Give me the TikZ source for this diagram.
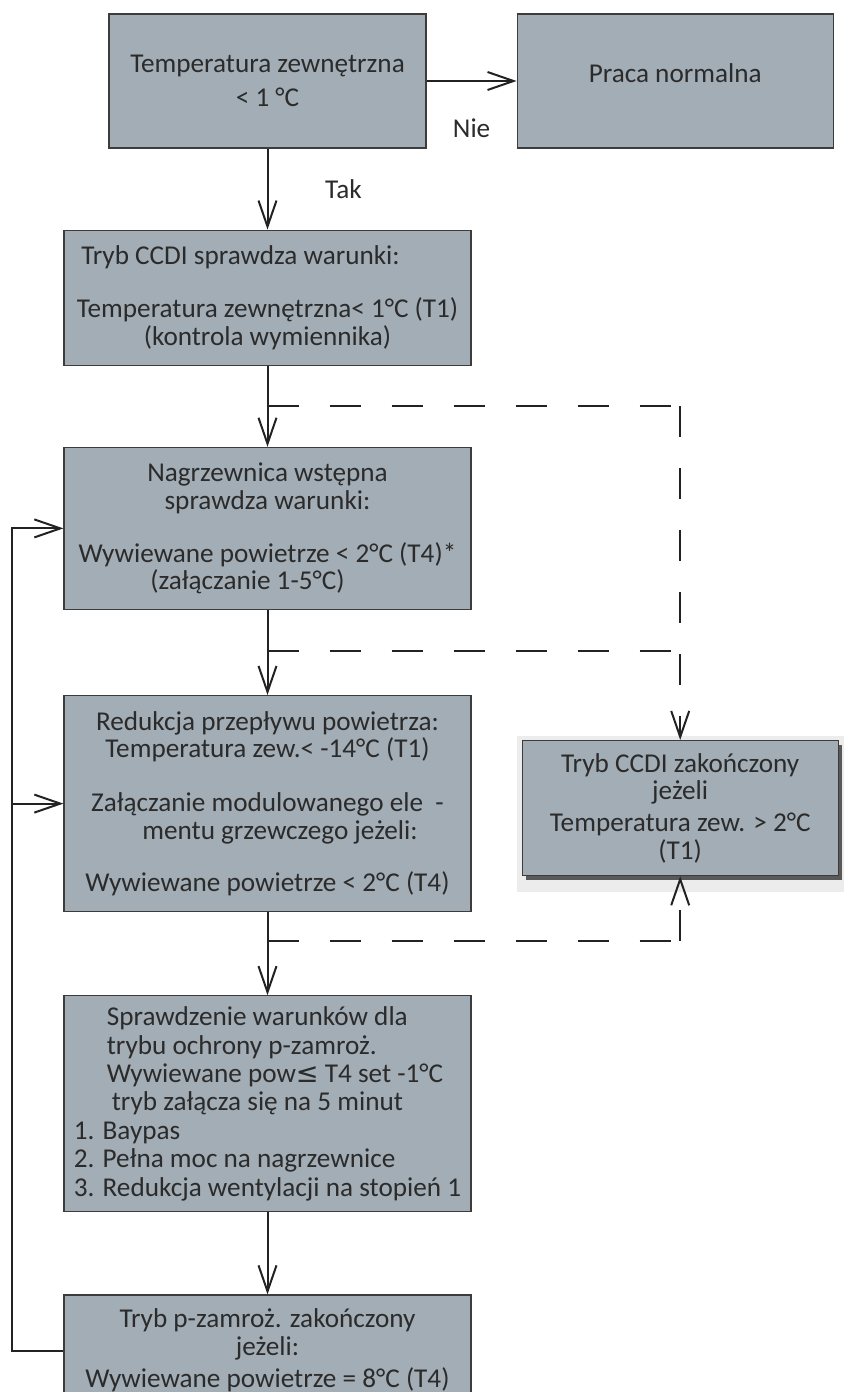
\documentclass[tikz,border=0pt]{standalone}
\usepackage{fontspec}
\setmainfont{Carlito}
\newfontfamily\symfont{DejaVu Sans}
\usepackage{tikz}
\usetikzlibrary{positioning, arrows.meta, shadows, backgrounds}

\definecolor{boxfill}{HTML}{A3ADB5}
\definecolor{boxline}{HTML}{3C3C3C}
\definecolor{txt}{HTML}{2B2B2B}
\definecolor{ink}{HTML}{222222}
\definecolor{shadowbg}{HTML}{ECECEC}

\begin{document}
\begin{tikzpicture}[x=0.5pt, y=-0.5pt, font=\fontsize{13.6}{13.75}\selectfont, text=txt,
  >={Straight Barb[length=13pt,width=9pt]},
  main box/.style={rectangle, draw=boxline, line width=0.6pt, fill=boxfill,
    inner sep=2pt, minimum width=203.5pt, align=center},
  flow/.style={draw=ink, line width=1pt, ->},
  dash line/.style={draw=ink, line width=1pt, dash pattern=on 15.5pt off 15.5pt}]

\useasboundingbox (0,0) rectangle (844,1392);
\clip (0,0) rectangle (844,1392);

\node[main box, minimum width=158.5pt, minimum height=67pt] (temp) at (267.5,81) {Temperatura zewnętrzna\\[3.25pt]< 1 °C};
\node[main box, minimum width=158pt, minimum height=67pt] (normal) [right=45pt of temp] {\raisebox{8pt}{Praca normalna}};
\node[main box, minimum height=67.5pt] (ccdi) [below=40.5pt of temp] {\hspace*{-27pt}Tryb CCDI sprawdza warunki:\\[12.75pt]Temperatura zewnętrzna< 1°C (T1)\\(kontrola wymiennika)};
\node[main box, minimum height=81pt] (pre) [below=40.5pt of ccdi] {Nagrzewnica wstępna\\sprawdza warunki:\\[12.75pt]Wywiewane powietrze < 2°C (T4)*\\\hspace*{-20pt}(załączanie 1-5°C)};
\node[main box, minimum height=108pt] (red) [below=42.5pt of pre] {Redukcja przepływu powietrza:\\Temperatura zew.< -14°C (T1)\\[13.25pt]Załączanie modulowanego ele~~-\\\hspace*{12.5pt}mentu grzewczego jeżeli:\\[12.25pt]Wywiewane powietrze < 2°C (T4)};
\node[main box, minimum height=108pt, align=left, font=\fontsize{13.6}{14.2}\selectfont] (check) [below=41.5pt of red] {\hspace*{16.5pt}Sprawdzenie warunków dla\\\hspace*{16.5pt}trybu ochrony p-zamroż.\\\hspace*{16.5pt}Wywiewane pow{\symfont ≤} T4 set -1°C\\\hspace*{19pt}tryb załącza się na 5 minut\\1. Baypas\\2. Pełna moc na nagrzewnice\\3. Redukcja wentylacji na stopień 1};
\node[main box, minimum height=55.5pt] (frost) [below=41pt of check] {Tryb p-zamroż. zakończony\\jeżeli:\\[2.5pt]Wywiewane powietrze = 8°C (T4)};
\node[main box, minimum width=158pt, minimum height=67.5pt,
  drop shadow={shadow xshift=1.8pt, shadow yshift=-2.2pt, fill=black!75, opacity=.85}] (ccdiend) [right=25pt of red, yshift=-2.25pt] {Tryb CCDI zakończony\\jeżeli\\[2.25pt]Temperatura zew. > 2°C\\(T1)};

% light panel behind the end box
\begin{scope}[on background layer]
\fill[shadowbg] ([xshift=-2.5pt,yshift=2pt]ccdiend.north west) rectangle ([xshift=3.5pt,yshift=-8pt]ccdiend.south east);
\end{scope}

% main flow
\draw[flow] (temp.east) -- node[yshift=-23.5pt] {Nie} (temp.east -| normal.west);
\draw[flow] (temp) -- node[xshift=38pt] {Tak} (ccdi);
\draw[flow] (ccdi) -- (pre);
\draw[flow] (pre) -- (red);
\draw[flow] (red) -- (check);
\draw[flow] (check) -- (frost);

% dashed branches to the end box
\coordinate (b1) at ([yshift=-20pt]ccdi.south);
\coordinate (b2) at ([yshift=-20.5pt]pre.south);
\coordinate (b3) at ([yshift=-14.5pt]red.south);
\coordinate (c1) at (b1 -| ccdiend.north);
\coordinate (c3) at (b3 -| ccdiend.south);
\draw[dash line] (b1) -- (c1);
\draw[dash line, ->] (c1) -- (ccdiend.north);
\draw[dash line] (b2) -- (b2 -| c1);
\draw[dash line] (b3) -- (c3);
\draw[dash line, ->] (c3) -- (ccdiend.south);

% loop back
\coordinate (back) at ([xshift=-25.5pt]frost.west);
\draw[flow] (frost.west) -- (back) |- (pre.west);
\draw[flow] (back |- red.west) -- (red.west);

\end{tikzpicture}
\end{document}
